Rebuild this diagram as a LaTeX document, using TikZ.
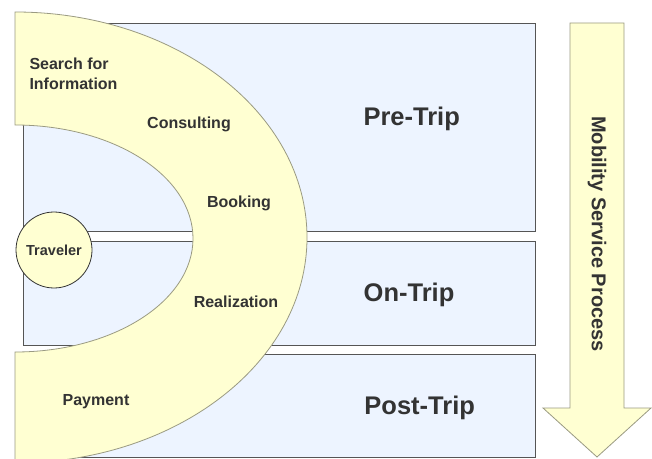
\documentclass[tikz,border=0pt]{standalone}
\usepackage{fontspec}
\setmainfont{Liberation Sans}
\definecolor{phaseblue}{HTML}{EDF4FF}
\definecolor{bandyellow}{HTML}{FFFFD2}
\definecolor{bandline}{HTML}{9A9A82}
\definecolor{boxline}{HTML}{555555}
\definecolor{labelgray}{HTML}{333333}

\begin{document}
\begin{tikzpicture}[x=1pt,y=1pt,
phase/.style={draw=boxline, fill=phaseblue, line width=0.9pt},
band/.style={draw=bandline, fill=bandyellow, line width=0.8pt},
steplabel/.style={inner sep=0pt, text=labelgray, font=\fontsize{16}{20}\selectfont\bfseries},
phaselabel/.style={anchor=base, inner sep=0pt, text=labelgray, font=\fontsize{25.5}{30}\selectfont\bfseries},
]
\useasboundingbox (0,0) rectangle (652,458);
\clip (0,0) rectangle (652,458);

\draw[phase] (23,227) rectangle (535,435);
\draw[phase] (23,113) rectangle (535,216.3);
\draw[phase] (15,1) rectangle (535,104);

\draw[band] (15,446) arc[start angle=90, end angle=-90, x radius=292, y radius=225.5]
  -- (15,106) arc[start angle=-90, end angle=90, x radius=178, y radius=113.5] -- cycle;

\node at (54,208) [circle, draw=black!80, fill=bandyellow, line width=0.8pt, minimum size=76, inner sep=0pt, text=labelgray, font=\fontsize{14.5}{17}\selectfont\bfseries](traveler){Traveler};

\node at (29.3,384) [steplabel, anchor=west, align=left](search){Search for\\Information};
\node at (189,329) [steplabel, anchor=base](consulting){Consulting};
\node at (239,250) [steplabel, anchor=base](booking){Booking};
\node at (236,150.3) [steplabel, anchor=base](realization){Realization};
\node at (96,53) [steplabel, anchor=base](payment){Payment};

\node at (411.7,332) [phaselabel](pretrip){Pre-Trip};
\node at (409,157) [phaselabel](ontrip){On-Trip};
\node at (419.7,44) [phaselabel](posttrip){Post-Trip};

\draw[band] (570,435) -- (624,435) -- (624,50) -- (651,50) -- (597,1) -- (543,50) -- (570,50) -- cycle;
\node at (597,224) [rotate=-90, inner sep=0pt, text=labelgray, font=\fontsize{20}{24}\selectfont\bfseries](process){Mobility Service Process};

\end{tikzpicture}
\end{document}
